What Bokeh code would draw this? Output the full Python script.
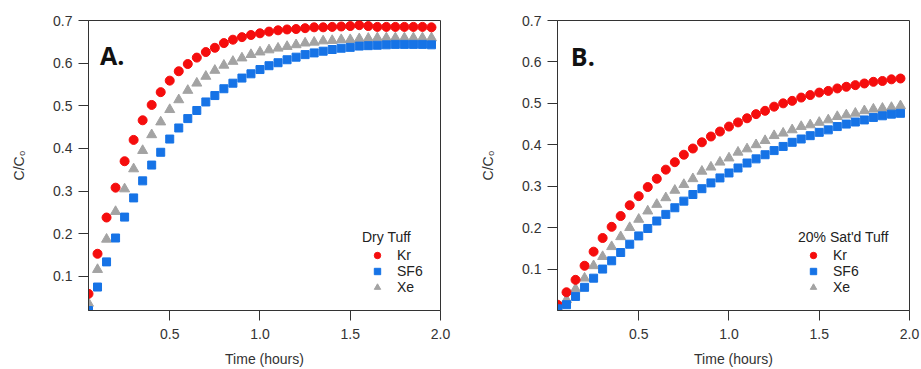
from bokeh.plotting import figure
from bokeh.layouts import row
from bokeh.models import (Legend, LegendItem, Label, FixedTicker, PrintfTickFormatter, Range1d)
from bokeh.embed import file_html
from bokeh.resources import INLINE

# ---- data ----
time_h = [0.05, 0.10, 0.15, 0.20, 0.25, 0.30, 0.35, 0.40, 0.45, 0.50,
          0.55, 0.60, 0.65, 0.70, 0.75, 0.80, 0.85, 0.90, 0.95, 1.00,
          1.05, 1.10, 1.15, 1.20, 1.25, 1.30, 1.35, 1.40, 1.45, 1.50,
          1.55, 1.60, 1.65, 1.70, 1.75, 1.80, 1.85, 1.90, 1.95]

dry_kr = [0.059, 0.153, 0.238, 0.308, 0.370, 0.420, 0.466, 0.502, 0.532, 0.559,
          0.581, 0.598, 0.613, 0.626, 0.636, 0.647, 0.655, 0.661, 0.666, 0.670,
          0.674, 0.677, 0.679, 0.680, 0.682, 0.684, 0.684, 0.685, 0.686, 0.687,
          0.689, 0.687, 0.685, 0.685, 0.685, 0.685, 0.685, 0.685, 0.684]
dry_sf6 = [0.020, 0.075, 0.134, 0.190, 0.239, 0.284, 0.324, 0.361, 0.391, 0.422,
           0.448, 0.470, 0.489, 0.509, 0.524, 0.540, 0.553, 0.565, 0.575, 0.585,
           0.594, 0.601, 0.608, 0.614, 0.620, 0.624, 0.628, 0.632, 0.635, 0.637,
           0.640, 0.641, 0.642, 0.643, 0.644, 0.644, 0.644, 0.644, 0.643]
dry_xe = [0.037, 0.116, 0.187, 0.252, 0.305, 0.352, 0.395, 0.432, 0.462, 0.491,
          0.514, 0.536, 0.553, 0.569, 0.583, 0.595, 0.604, 0.612, 0.620, 0.626,
          0.631, 0.635, 0.639, 0.643, 0.647, 0.649, 0.652, 0.653, 0.655, 0.655,
          0.657, 0.658, 0.659, 0.659, 0.659, 0.659, 0.659, 0.659, 0.659]

sat_kr = [0.014, 0.044, 0.074, 0.108, 0.142, 0.175, 0.202, 0.228, 0.254, 0.276,
          0.298, 0.318, 0.340, 0.358, 0.376, 0.391, 0.406, 0.420, 0.432, 0.444,
          0.454, 0.464, 0.474, 0.482, 0.492, 0.500, 0.506, 0.514, 0.520, 0.526,
          0.530, 0.536, 0.540, 0.544, 0.548, 0.552, 0.554, 0.558, 0.560]
sat_sf6 = [0.004, 0.014, 0.034, 0.056, 0.078, 0.100, 0.120, 0.140, 0.160, 0.180,
           0.198, 0.216, 0.232, 0.248, 0.264, 0.280, 0.294, 0.308, 0.320, 0.332,
           0.344, 0.356, 0.366, 0.376, 0.386, 0.396, 0.406, 0.414, 0.422, 0.430,
           0.436, 0.444, 0.450, 0.455, 0.460, 0.466, 0.470, 0.474, 0.476]
sat_xe = [0.008, 0.026, 0.052, 0.078, 0.108, 0.130, 0.154, 0.178, 0.200, 0.220,
          0.240, 0.256, 0.272, 0.290, 0.304, 0.318, 0.336, 0.346, 0.358, 0.368,
          0.382, 0.390, 0.400, 0.410, 0.422, 0.428, 0.436, 0.444, 0.448, 0.454,
          0.460, 0.468, 0.472, 0.476, 0.482, 0.486, 0.488, 0.490, 0.494]

x_ticks = [0.5, 1.0, 1.5, 2.0]
y_ticks = [0.1, 0.2, 0.3, 0.4, 0.5, 0.6, 0.7]

RED = "#f50d0d"
BLUE = "#1673e6"
GRAY = "#a3a3a3"
FONT = "Liberation Sans"
TXT = "#333333"


def make_panel(kr, sf6, xe, y_min, legend_title, letter, letter_xy, width,
               border_left, border_right, legend_loc):
    p = figure(width=width, height=369, output_backend="svg", toolbar_location=None,
               x_range=Range1d(0.05, 2.0), y_range=Range1d(y_min, 0.7),
               min_border_left=border_left, min_border_right=border_right,
               min_border_top=20, min_border_bottom=59)
    p.grid.visible = False
    p.outline_line_color = TXT
    p.outline_line_width = 1
    p.background_fill_color = "white"
    p.border_fill_color = "white"

    p.xaxis.ticker = FixedTicker(ticks=x_ticks)
    p.yaxis.ticker = FixedTicker(ticks=y_ticks)
    p.xaxis.formatter = PrintfTickFormatter(format="%.1f")
    p.yaxis.formatter = PrintfTickFormatter(format="%.1f")
    for ax in (p.xaxis, p.yaxis):
        ax.minor_tick_line_color = None
        ax.major_tick_in = 0
        ax.major_tick_out = 10
        ax.axis_line_color = TXT
        ax.major_tick_line_color = TXT
        ax.major_label_text_font = FONT
        ax.major_label_text_font_size = "14px"
        ax.major_label_text_color = TXT
        ax.axis_label_text_font = FONT
        ax.axis_label_text_font_size = "14px"
        ax.axis_label_text_font_style = "normal"
        ax.axis_label_text_color = TXT
    p.xaxis.major_label_standoff = 8
    p.yaxis.major_label_standoff = 6
    p.xaxis.axis_label = "Time (hours)"
    p.yaxis.axis_label = "C/C\u2080"
    p.xaxis.axis_label_standoff = 9
    p.yaxis.axis_label_standoff = 23

    r_xe = p.scatter(time_h, xe, marker="triangle", size=10, color=GRAY)
    r_kr = p.scatter(time_h, kr, marker="circle", size=9, color=RED)
    r_sf6 = p.scatter(time_h, sf6, marker="square", size=8, color=BLUE)

    legend = Legend(items=[LegendItem(label="Kr", renderers=[r_kr]),
                           LegendItem(label="SF6", renderers=[r_sf6]),
                           LegendItem(label="Xe", renderers=[r_xe])],
                    location=legend_loc, title=legend_title)
    legend.title_text_font = FONT
    legend.title_text_font_size = "14px"
    legend.title_text_font_style = "normal"
    legend.title_text_color = "#222222"
    legend.title_standoff = 2
    legend.label_text_font = FONT
    legend.label_text_font_size = "14px"
    legend.label_text_color = "#222222"
    legend.glyph_width = 30
    legend.glyph_height = 16
    legend.label_height = 16
    legend.label_standoff = 5
    legend.spacing = 0
    legend.padding = 0
    legend.margin = 0
    legend.border_line_color = None
    legend.background_fill_alpha = 0
    p.add_layout(legend)

    p.add_layout(Label(x=letter_xy[0], y=letter_xy[1], text=letter,
                       text_font="Open Sans", text_font_style="bold",
                       text_font_size="25px", text_color="#111111",
                       text_baseline="alphabetic", text_align="left"))
    return p


pa = make_panel(dry_kr, dry_sf6, dry_xe, 0.02, "Dry Tuff", "A.", (0.114, 0.618),
                468, 88, 28, (274, 15))
pb = make_panel(sat_kr, sat_sf6, sat_xe, 0.0, "20% Sat'd Tuff", "B.", (0.124, 0.6155),
                452, 89, 11, (241, 15))

layout = row(pa, pb)
open("out.html", "w").write(file_html(layout, INLINE))
